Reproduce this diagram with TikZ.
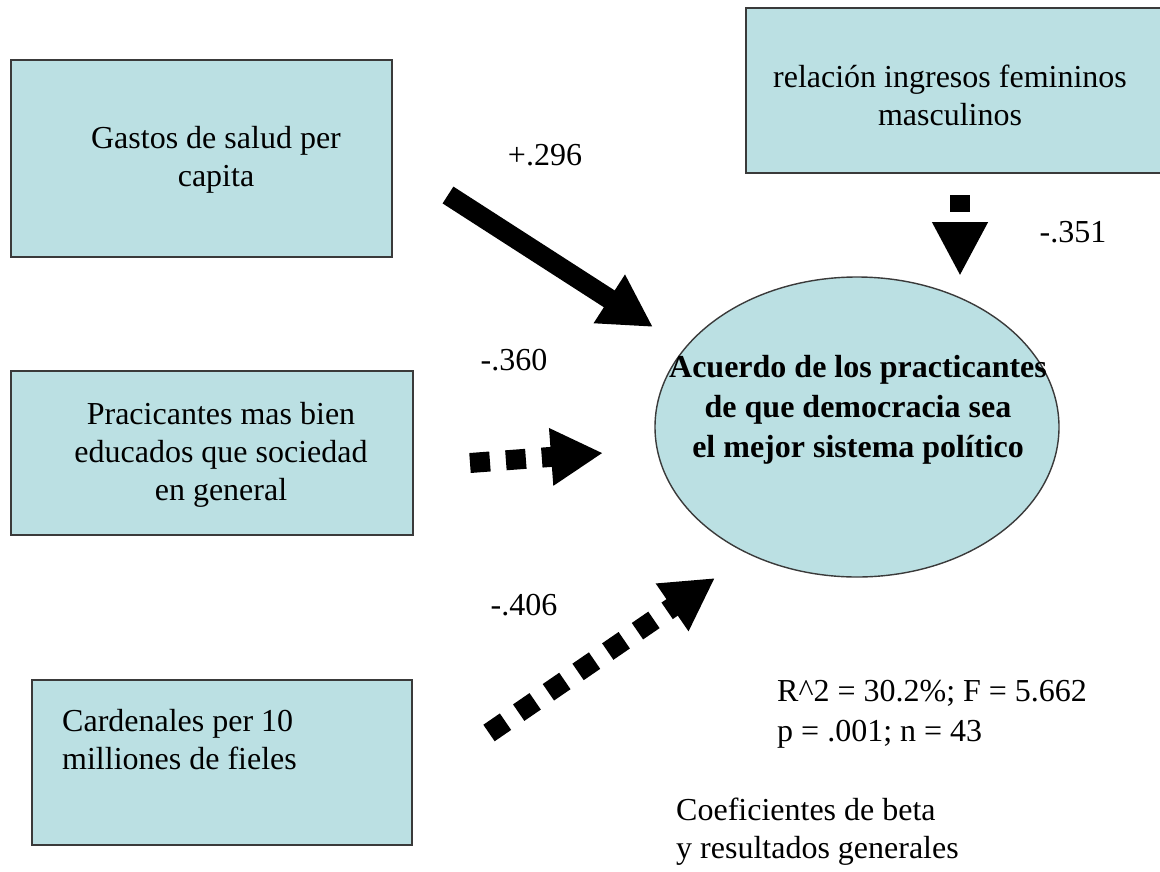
\documentclass[tikz,border=0pt]{standalone}
\usepackage{fontspec}
\setmainfont{Liberation Serif}
\usetikzlibrary{arrows.meta,shapes.geometric}
\definecolor{boxfill}{HTML}{BBE0E3}
\definecolor{boxline}{HTML}{3A3A3A}
\tikzset{
  varbox/.style={draw=boxline,line width=1.6pt,fill=boxfill,rectangle,inner sep=0pt},
  txt/.style={inner sep=0pt,font=\fontsize{32pt}{38pt}\selectfont,align=center},
  ltxt/.style={inner sep=0pt,font=\fontsize{32pt}{38pt}\selectfont,align=left,anchor=west},
  posarrow/.style={line width=20pt,-{Triangle[length=52pt,width=54pt]}},
  negarrow/.style={line width=20pt,dash pattern=on 20pt off 16pt,-{Triangle[length=52pt,width=54pt]}}
}
\begin{document}
\begin{tikzpicture}[x=1pt,y=-1pt]
\useasboundingbox (0,0) rectangle (1160,871);
% boxes
\node[varbox,minimum width=381pt,minimum height=197pt] (b1) at (201.5,158.5) {};
\node[varbox,minimum width=416pt,minimum height=165pt] (b4) at (954,90.5) {};
\node[varbox,minimum width=402pt,minimum height=164pt] (b2) at (212,453) {};
\node[varbox,minimum width=380pt,minimum height=165pt] (b3) at (222,762.5) {};
\node[draw=boxline,line width=1.4pt,fill=boxfill,ellipse,inner sep=0pt,minimum width=404pt,minimum height=300pt] (dv) at (857,427) {};
% texts
\node[txt] (t1) at (216,160) {Gastos de salud per\\capita};
\node[txt] (t4) at (950,95) {relación ingresos femininos\\masculinos};
\node[txt] (t2) at (221,455) {Pracicantes mas bien\\educados que sociedad\\en general};
\node[ltxt] (t3) at (62,740) {Cardenales per 10\\milliones de fieles};
\node[txt,font=\bfseries\fontsize{32pt}{40pt}\selectfont] (tdv) at (858,410) {Acuerdo de los practicantes\\de que democracia sea\\el mejor sistema político};
% coefficient labels
\node[txt] (c1) at (545,155) {+.296};
\node[txt] (c2) at (514,360) {-.360};
\node[txt] (c4) at (1073,232) {-.351};
\node[txt] (c3) at (524,605) {-.406};
% stats
\node[ltxt,font=\fontsize{32pt}{40pt}\selectfont] (st) at (777,714) {R\^{}2 = 30.2\%; F = 5.662\\p = .001; n = 43};
\node[ltxt] (note) at (676,832) {Coeficientes de beta\\y resultados generales};
% arrow ends
\coordinate (a1s) at (448,195); \coordinate (a1e) at (653,327);
\coordinate (a2s) at (470,463); \coordinate (a2e) at (603,453);
\coordinate (a3s) at (489,733); \coordinate (a3e) at (715,578);
\coordinate (a4s) at (960,195); \coordinate (a4e) at (960,276);
\draw[posarrow] (a1s) -- (a1e);
\draw[negarrow] (a2s) -- (a2e);
\draw[negarrow] (a3s) -- (a3e);
\draw[line width=20pt,dash pattern=on 17pt off 12pt,-{Triangle[length=54pt,width=52pt]}] (a4s) -- (a4e);
\end{tikzpicture}
\end{document}
